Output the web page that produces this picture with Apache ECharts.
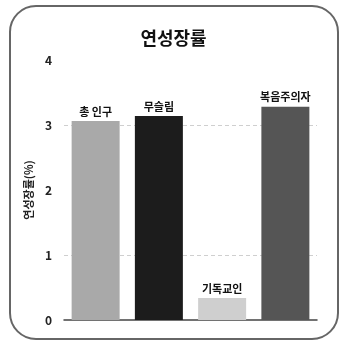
<!DOCTYPE html>
<html>
<head>
    <meta charset="utf-8"/>
    <title>연성장률</title>
    <script src="https://cdn.jsdelivr.net/npm/echarts@6/dist/echarts.min.js"></script>
    <style>
        html, body { margin: 0; padding: 0; background: #fff; }
        #main { width: 347px; height: 347px; }
    </style>
</head>
<body>
<div id="main"></div>
<script>
    // 데이터
    var categories = ['총 인구', '무슬림', '기독교인', '복음주의자'];
    var values = [3.06, 3.14, 0.34, 3.28];
    var barColors = ['#a9a9a9', '#1c1c1c', '#cfcfcf', '#555555'];
    var yTicks = [0, 1, 2, 3, 4];
    var gridLines = [1, 3];   // 원본에서 보이는 점선

    var font = '"Noto Sans CJK KR", sans-serif';
    var myChart = echarts.init(document.getElementById('main'));

    var option = {
        backgroundColor: '#fff',
        title: {
            text: '연성장률',
            left: 'center',
            top: 24,
            textStyle: { fontFamily: font, fontSize: 18, fontWeight: 'bold', color: '#111' }
        },
        graphic: [{
            type: 'rect',
            shape: { x: 10, y: 6, width: 328, height: 333, r: 26 },
            style: { fill: 'none', stroke: '#666', lineWidth: 2 },
            z: -1
        }],
        grid: { left: 64, right: 30, top: 60, bottom: 27 },
        xAxis: {
            type: 'category',
            data: categories,
            axisLine: { lineStyle: { color: '#444', width: 1.5 } },
            axisTick: { show: false },
            axisLabel: { show: false }
        },
        yAxis: {
            type: 'value',
            min: yTicks[0],
            max: yTicks[yTicks.length - 1],
            interval: 1,
            name: '연성장률(%)',
            nameLocation: 'middle',
            nameGap: 30,
            nameTextStyle: { fontFamily: font, fontSize: 11, fontWeight: 'bold', color: '#222' },
            axisLine: { show: false },
            axisTick: { show: false },
            axisLabel: { fontFamily: font, fontSize: 12, fontWeight: 'bold', color: '#222', margin: 12 },
            splitLine: { show: false }
        },
        series: [{
            type: 'bar',
            barWidth: 48,
            data: values.map(function (v, i) {
                return { value: v, itemStyle: { color: barColors[i] } };
            }),
            label: {
                show: true,
                position: 'top',
                distance: 4,
                fontFamily: font,
                fontSize: 11,
                fontWeight: 'bold',
                color: '#111',
                formatter: function (p) { return categories[p.dataIndex]; }
            },
            markLine: {
                silent: true,
                symbol: 'none',
                label: { show: false },
                lineStyle: { color: '#cfcfcf', type: [4, 3], width: 1 },
                z: -1,
                data: gridLines.map(function (v) { return { yAxis: v }; })
            }
        }]
    };
    myChart.setOption(option);
</script>
</body>
</html>
